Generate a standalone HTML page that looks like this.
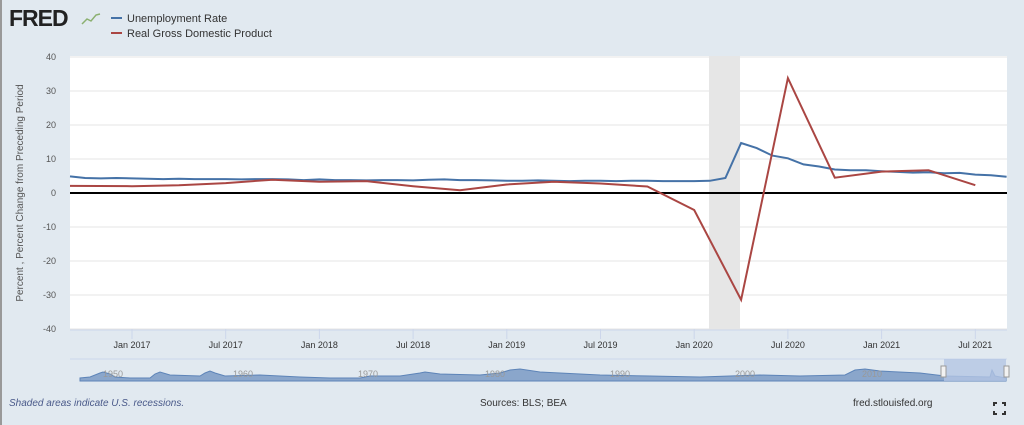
<!DOCTYPE html>
<html><head><meta charset="utf-8"><style>
body{margin:0;width:1024px;height:425px;background:#e1e9f0;font-family:"Liberation Sans",sans-serif;overflow:hidden}
</style></head><body>
<svg id="s" width="1024" height="425" xmlns="http://www.w3.org/2000/svg" style="position:absolute;left:0;top:0">
<rect x="0" y="0" width="1024" height="425" fill="#e1e9f0"/>
<line x1="1" y1="0" x2="1" y2="425" stroke="#999" stroke-width="2"/>
<text x="9" y="26" font-size="23" font-weight="bold" fill="#222" letter-spacing="-1">FRED</text>
<polyline points="82,24 87,19 91,21 96,15 100,14" fill="none" stroke="#8bb070" stroke-width="1.5"/>
<line x1="111" y1="18" x2="122" y2="18" stroke="#4572a7" stroke-width="2"/>
<text x="127" y="22" font-size="11" fill="#333">Unemployment Rate</text>
<line x1="111" y1="33" x2="122" y2="33" stroke="#aa4643" stroke-width="2"/>
<text x="127" y="37" font-size="11" fill="#333">Real Gross Domestic Product</text>
<rect x="70" y="56" width="937" height="273" fill="#fff"/>
<rect x="709" y="56" width="31" height="273" fill="#e6e6e6"/>
<g id="grid" stroke="#e6e6e6"></g>
<g id="ylab" font-size="9" fill="#555" text-anchor="end"></g>
<text transform="translate(23,193) rotate(-90)" font-size="10" fill="#555" text-anchor="middle">Percent , Percent Change from Preceding Period</text>
<line x1="70" y1="193" x2="1007" y2="193" stroke="#000" stroke-width="2"/>
<g id="xlab" font-size="9" fill="#333" text-anchor="middle"></g>
<path id="u" fill="none" stroke="#4572a7" stroke-width="2"/>
<path id="g" fill="none" stroke="#aa4643" stroke-width="2"/>
<line x1="70" y1="330" x2="1007" y2="330" stroke="#ccd6eb"/>
<line x1="70" y1="359" x2="1007" y2="359" stroke="#ccd6eb"/>
<path d="M80,381 L80,378 L90,377 L100,373 L103,372 L110,374 L115,377 L130,378 L150,378 L155,374 L160,372 L170,375 L200,376 L205,373 L210,371 L215,373 L225,376 L260,375 L300,377 L330,378 L360,378 L370,376 L400,376 L420,373 L425,372 L440,374 L480,375 L500,373 L510,370 L520,369 L540,372 L600,375 L650,376 L700,377 L730,376 L760,375 L800,376 L845,375 L855,370 L865,369 L880,371 L920,373 L945,376 L990,377 L992,370 L995,376 L1006,378 L1006,381 Z" fill="#8aa6cb" stroke="#5d84b8"/>
<rect x="944" y="359" width="62" height="22" fill="#b4c6e3" fill-opacity="0.8"/>
<rect x="941" y="366" width="5" height="11" fill="#f2f2f2" stroke="#999"/>
<rect x="1004" y="366" width="5" height="11" fill="#f2f2f2" stroke="#999"/>
<g font-size="9" fill="#999"><text x="103" y="377">1950</text><text x="233" y="377">1960</text><text x="358" y="377">1970</text><text x="485" y="377">1980</text><text x="610" y="377">1990</text><text x="735" y="377">2000</text><text x="862" y="377">2010</text></g>
<text x="9" y="406" font-size="10" font-style="italic" fill="#4a5a8a">Shaded areas indicate U.S. recessions.</text>
<text x="480" y="406" font-size="10" fill="#333">Sources: BLS; BEA</text>
<text x="853" y="406" font-size="10" fill="#333">fred.stlouisfed.org</text>
<g stroke="#333" stroke-width="2" fill="none"><path d="M994,406v-3h3M1002,403h3v3M1005,411v3h-3M997,414h-3v-3"/></g>
</svg>
<script>
var ns="http://www.w3.org/2000/svg";
function Y(v){return 193-v*3.4}
function el(p,t,a,txt){var e=document.createElementNS(ns,t);for(var k in a)e.setAttribute(k,a[k]);if(txt)e.textContent=txt;document.getElementById(p).appendChild(e);}
for(var v=-40;v<=40;v+=10){if(v!=0)el("grid","line",{x1:70,x2:1007,y1:Y(v),y2:Y(v)});el("ylab","text",{x:56,y:Y(v)+3},String(v));}
var xl=["Jan 2017","Jul 2017","Jan 2018","Jul 2018","Jan 2019","Jul 2019","Jan 2020","Jul 2020","Jan 2021","Jul 2021"];
for(var i=0;i<10;i++){var x=132+i*93.7;el("xlab","line",{x1:x,x2:x,y1:329,y2:339,stroke:"#ccd6eb"});el("xlab","text",{x:x,y:348},xl[i]);}
function MX(m){return 132+m*15.617}
var u=[4.9,4.9,4.7,4.7,4.7,4.6,4.4,4.4,4.3,4.4,4.3,4.2,4.1,4.2,4.1,4.1,4.1,4.0,4.1,4.1,4.0,3.8,4.0,3.8,3.8,3.7,3.8,3.8,3.7,3.9,4.0,3.8,3.8,3.7,3.6,3.6,3.7,3.6,3.5,3.6,3.6,3.5,3.6,3.6,3.5,3.5,3.5,3.6,4.4,14.7,13.2,11.0,10.2,8.4,7.8,6.9,6.7,6.7,6.4,6.2,6.0,6.1,5.8,5.9,5.4,5.2,4.8];
var d="M70,"+Y(4.9);for(var i=0;i<u.length;i++){var x=MX(i-10);if(x<=70)continue;d+="L"+x.toFixed(1)+","+Y(u[i]).toFixed(1);}
document.getElementById("u").setAttribute("d",d);
var g=[2.1,2.0,2.3,2.9,3.9,3.3,3.5,2.0,0.8,2.5,3.3,2.8,1.9,-5.0,-31.4,33.8,4.5,6.3,6.7,2.3];
d="M70,"+Y(2.1);for(var i=1;i<g.length;i++){d+="L"+MX((i-1)*3).toFixed(1)+","+Y(g[i]).toFixed(1);}
document.getElementById("g").setAttribute("d",d);
</script>
</body></html>
